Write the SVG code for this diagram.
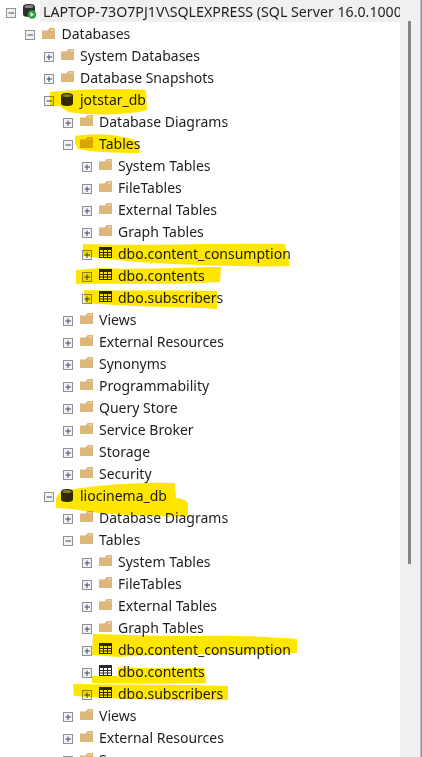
<svg xmlns="http://www.w3.org/2000/svg" width="422" height="757" viewBox="0 0 422 757">
<style>
text{font-family:"Noto Sans","Open Sans","Liberation Sans",sans-serif;font-size:14px;fill:#1e1e1e}
.hl{fill:#ffe600;mix-blend-mode:multiply}
</style>
<defs>
<g id="folder"><path d="M0 2.500H5.500L7.500 0H13V11H0z" fill="#dcb67a"/><path d="M7.800 2.500L9 1.200H12V2.500z" fill="#ecd7b2"/></g>
<g id="box"><rect x="-4.500" y="-4.500" width="9" height="9" fill="#f2f2f2" stroke="#919191"/></g>
<g id="plus"><use href="#box"/><path d="M-2.500 0h5.500M0-2.500v5.500" stroke="#3a4a70" stroke-width="1" transform="translate(-.0 0)"/></g>
<g id="minus"><use href="#box"/><path d="M-2.500 0h5.500" stroke="#3a4a70" stroke-width="1"/></g>
<g id="table"><rect x="0.500" y="0.500" width="12" height="10" fill="#fff" stroke="#2b2b2b"/><rect x="0.500" y="0.500" width="12" height="2.500" fill="#2b2b2b"/><path d="M4.500 3v7M8.500 3v7M1 5.500h11M1 8h11" stroke="#2b2b2b" stroke-width="1" fill="none"/></g>
<g id="db"><path d="M0 2.500C0 .8 3 0 6 0s6 .8 6 2.500v8C12 12.200 9 13 6 13s-6-.8-6-2.500z" fill="#2f2f2f"/><ellipse cx="6" cy="2.600" rx="4.600" ry="1.500" fill="#8a8a8a"/></g>
</defs>
<rect width="422" height="757" fill="#fff"/>
<g id="server"><rect x="40" y="0" width="360" height="22" fill="#f0f0f0"/><use href="#minus" x="11" y="13"/><g><use href="#db" x="23" y="4"/><circle cx="32" cy="14.500" r="4.300" fill="#2e9e46"/><path d="M30.500 12.300l3.600 2.200-3.600 2.200z" fill="#fff"/></g><text x="43" y="17" font-size="14.200" style="font-size:14.200px">LAPTOP-73O7PJ1V\SQLEXPRESS (SQL Server 16.0.1000</text></g>
<g id="scrollbar"><rect x="400" y="0" width="21" height="757" fill="#f0f0f0"/><rect x="408" y="21" width="3" height="543" fill="#858585"/><rect x="420.500" y="0" width="1.500" height="757" fill="#8d8d94"/></g>
<g id="n-databases"><use href="#minus" x="30" y="35"/><use href="#folder" x="42" y="28"/><text x="61.500" y="39">Databases</text></g>
<g id="n-system-databases"><use href="#plus" x="49" y="57"/><use href="#folder" x="61" y="49"/><text x="80" y="61">System Databases</text></g>
<g id="n-snapshots"><use href="#plus" x="49" y="79"/><use href="#folder" x="61" y="71"/><text x="80" y="83">Database Snapshots</text></g>
<g id="n-jotstar"><use href="#minus" x="49" y="101"/><use href="#db" x="61" y="93"/><text x="80" y="105">jotstar_db</text></g>
<g id="n-j-diagrams"><use href="#plus" x="68" y="123"/><use href="#folder" x="80" y="115"/><text x="99" y="127">Database Diagrams</text></g>
<g id="n-j-tables"><use href="#minus" x="68" y="145"/><use href="#folder" x="80" y="137"/><text x="99" y="149">Tables</text></g>
<g id="n-j-systables"><use href="#plus" x="87" y="167"/><use href="#folder" x="99" y="159"/><text x="118" y="171">System Tables</text></g>
<g id="n-j-filetables"><use href="#plus" x="87" y="189"/><use href="#folder" x="99" y="181"/><text x="118" y="193">FileTables</text></g>
<g id="n-j-external"><use href="#plus" x="87" y="211"/><use href="#folder" x="99" y="203"/><text x="118" y="215">External Tables</text></g>
<g id="n-j-graph"><use href="#plus" x="87" y="233"/><use href="#folder" x="99" y="225"/><text x="118" y="237">Graph Tables</text></g>
<g id="n-j-consumption"><use href="#plus" x="87" y="255"/><use href="#table" x="99" y="247"/><text x="118" y="259">dbo.content_consumption</text></g>
<g id="n-j-contents"><use href="#plus" x="87" y="277"/><use href="#table" x="99" y="269"/><text x="118" y="281">dbo.contents</text></g>
<g id="n-j-subscribers"><use href="#plus" x="87" y="299"/><use href="#table" x="99" y="291"/><text x="118" y="303">dbo.subscribers</text></g>
<g id="n-j-views"><use href="#plus" x="68" y="321"/><use href="#folder" x="80" y="313"/><text x="99" y="325">Views</text></g>
<g id="n-j-resources"><use href="#plus" x="68" y="343"/><use href="#folder" x="80" y="335"/><text x="99" y="347">External Resources</text></g>
<g id="n-j-synonyms"><use href="#plus" x="68" y="365"/><use href="#folder" x="80" y="357"/><text x="99" y="369">Synonyms</text></g>
<g id="n-j-programmability"><use href="#plus" x="68" y="387"/><use href="#folder" x="80" y="379"/><text x="99" y="391">Programmability</text></g>
<g id="n-j-querystore"><use href="#plus" x="68" y="409"/><use href="#folder" x="80" y="401"/><text x="99" y="413">Query Store</text></g>
<g id="n-j-broker"><use href="#plus" x="68" y="431"/><use href="#folder" x="80" y="423"/><text x="99" y="435">Service Broker</text></g>
<g id="n-j-storage"><use href="#plus" x="68" y="453"/><use href="#folder" x="80" y="445"/><text x="99" y="457">Storage</text></g>
<g id="n-j-security"><use href="#plus" x="68" y="475"/><use href="#folder" x="80" y="467"/><text x="99" y="479">Security</text></g>
<g id="n-liocinema"><use href="#minus" x="49" y="497"/><use href="#db" x="61" y="489"/><text x="80" y="501">liocinema_db</text></g>
<g id="n-l-diagrams"><use href="#plus" x="68" y="519"/><use href="#folder" x="80" y="511"/><text x="99" y="523">Database Diagrams</text></g>
<g id="n-l-tables"><use href="#minus" x="68" y="541"/><use href="#folder" x="80" y="533"/><text x="99" y="545">Tables</text></g>
<g id="n-l-systables"><use href="#plus" x="87" y="563"/><use href="#folder" x="99" y="555"/><text x="118" y="567">System Tables</text></g>
<g id="n-l-filetables"><use href="#plus" x="87" y="585"/><use href="#folder" x="99" y="577"/><text x="118" y="589">FileTables</text></g>
<g id="n-l-external"><use href="#plus" x="87" y="607"/><use href="#folder" x="99" y="599"/><text x="118" y="611">External Tables</text></g>
<g id="n-l-graph"><use href="#plus" x="87" y="629"/><use href="#folder" x="99" y="621"/><text x="118" y="633">Graph Tables</text></g>
<g id="n-l-consumption"><use href="#plus" x="87" y="651"/><use href="#table" x="99" y="643"/><text x="118" y="655">dbo.content_consumption</text></g>
<g id="n-l-contents"><use href="#plus" x="87" y="673"/><use href="#table" x="99" y="665"/><text x="118" y="677">dbo.contents</text></g>
<g id="n-l-subscribers"><use href="#plus" x="87" y="695"/><use href="#table" x="99" y="687"/><text x="118" y="699">dbo.subscribers</text></g>
<g id="n-l-views"><use href="#plus" x="68" y="717"/><use href="#folder" x="80" y="709"/><text x="99" y="721">Views</text></g>
<g id="n-l-resources"><use href="#plus" x="68" y="739"/><use href="#folder" x="80" y="731"/><text x="99" y="743">External Resources</text></g>
<g id="n-l-synonyms"><use href="#box" x="68" y="761"/><use href="#folder" x="80" y="753"/><text x="99" y="765">Synonyms</text></g>
<g id="highlights">
<path class="hl" d="M50 92C75 89 125 88 146 90L147 110C130 115 90 116 68 112L60 106H50z"/>
<path class="hl" d="M75 136C90 133 115 134 122 137C135 138 139 142 140 153C115 153 90 152 78 149L75 143z"/>
<path class="hl" d="M83 244C130 246 230 243 285 244L290 266C230 268 130 262 118 260L100 258L83 256z"/>
<path class="hl" d="M76 270L100 268C140 270 190 267 221 267L220 282C170 285 120 283 76 284z"/>
<path class="hl" d="M84 290C120 291 170 290 217 291L217 309C190 307 130 307 85 303z"/>
<path class="hl" d="M56 499C58 492 64 490 70 490C100 484 150 482 175 483L176 498C180 498 186 500 188 503L188 517C150 516 100 515 72 509L56 508z"/>
<path class="hl" d="M93 634C130 635 160 636 200 636C240 635 270 637 297 639L297 653C240 654 160 654 118 657L92 655z"/>
<path class="hl" d="M118 667C150 669 180 668 204 668L206 683C170 684 130 684 92 683L92 676L118 676z"/>
<path class="hl" d="M73 684C120 685 170 684 228 686L228 700C180 701 130 700 74 696z"/>
</g>
</svg>
